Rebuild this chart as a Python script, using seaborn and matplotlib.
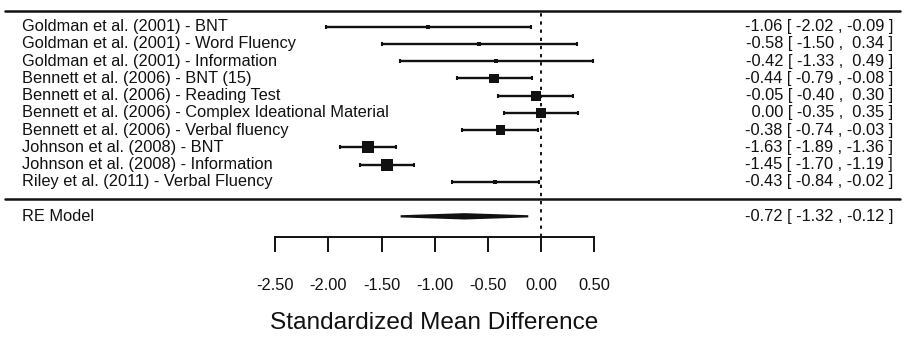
import numpy as np
import pandas as pd
import matplotlib
matplotlib.use('Agg')
import matplotlib.pyplot as plt
import seaborn as sns

# study-level effects (SMD with 95% CI)
studies = ['Goldman et al. (2001) - BNT',
           'Goldman et al. (2001) - Word Fluency',
           'Goldman et al. (2001) - Information',
           'Bennett et al. (2006) - BNT (15)',
           'Bennett et al. (2006) - Reading Test',
           'Bennett et al. (2006) - Complex Ideational Material',
           'Bennett et al. (2006) - Verbal fluency',
           'Johnson et al. (2008) - BNT',
           'Johnson et al. (2008) - Information',
           'Riley et al. (2011) - Verbal Fluency']
estimate = [-1.06, -0.58, -0.42, -0.44, -0.05, 0.00, -0.38, -1.63, -1.45, -0.43]
ci_lower = [-2.02, -1.50, -1.33, -0.79, -0.40, -0.35, -0.74, -1.89, -1.70, -0.84]
ci_upper = [-0.09, 0.34, 0.49, -0.08, 0.30, 0.35, -0.03, -1.36, -1.19, -0.02]
# relative study weights (box size)
weights = [4.1, 4.2, 4.3, 10.3, 10.6, 10.6, 10.4, 14.8, 14.5, 4.2]

# random-effects summary
re_label = 'RE Model'
re_est, re_lower, re_upper = -0.72, -1.32, -0.12

x_ticks = [-2.5, -2.0, -1.5, -1.0, -0.5, 0.0, 0.5]
x_title = 'Standardized Mean Difference'

k = len(studies)
df = pd.DataFrame({'study': studies, 'est': estimate, 'lo': ci_lower,
                   'hi': ci_upper, 'w': weights})
df['row'] = np.arange(k, 0, -1)

sns.set_theme(style='white')
plt.rcParams['font.family'] = ['Liberation Sans', 'DejaVu Sans']
plt.rcParams['axes.unicode_minus'] = False
ink = '#111111'
fs = 11.8

fig = plt.figure(figsize=(9.05, 3.37), dpi=100)
ax = fig.add_axes([0, 0.2967, 1, 0.7033])

# confidence intervals
ax.errorbar(df['est'], df['row'],
            xerr=[df['est'] - df['lo'], df['hi'] - df['est']],
            fmt='none', ecolor=ink, elinewidth=1.7, capsize=1.7, capthick=1.5)

# weighted boxes
sns.scatterplot(data=df, x='est', y='row', size='w', sizes=(8.3, 74.6),
                marker='s', color=ink, edgecolor='none', linewidth=0,
                legend=False, ax=ax, zorder=3)

# summary diamond
h = 0.12
ax.fill([re_lower, re_est, re_upper, re_est], [-1, -1 + h, -1, -1 - h],
        color=ink, lw=1.6, zorder=3)

# reference line at zero
ax.vlines(0, -2.2, 10.9, colors=ink, linestyles=(0, (1.7, 2.5)), lw=1.4)

# horizontal rules
ax.axhline(10.9, xmin=5 / 905, xmax=900 / 905, color=ink, lw=1.8)
ax.axhline(0, xmin=5 / 905, xmax=900 / 905, color=ink, lw=1.8)

# left and right annotations
trans = ax.get_yaxis_transform()
for _, r in df.iterrows():
    ax.text(22 / 905, r['row'], r['study'], transform=trans, ha='left',
            va='center', fontsize=fs, color=ink)
    ax.text(893 / 905, r['row'],
            f"{r['est']:5.2f} [ {r['lo']:5.2f} , {r['hi']:5.2f} ]",
            transform=trans, ha='right', va='center', fontsize=fs, color=ink)
ax.text(22 / 905, -1, re_label, transform=trans, ha='left', va='center',
        fontsize=fs, color=ink)
ax.text(893 / 905, -1, f"{re_est:5.2f} [ {re_lower:5.2f} , {re_upper:5.2f} ]",
        transform=trans, ha='right', va='center', fontsize=fs, color=ink)

ax.set_xlim(-541 / 106.33, 364 / 106.33)
ax.set_ylim(-2.2, 11.55)

for side in ['top', 'left', 'right']:
    ax.spines[side].set_visible(False)
ax.spines['bottom'].set_bounds(x_ticks[0], x_ticks[-1])
ax.spines['bottom'].set_linewidth(1.4)
ax.spines['bottom'].set_color(ink)
ax.set_yticks([])
ax.set_xticks(x_ticks)
ax.set_xticklabels([f'{t:.2f}' for t in x_ticks])
ax.tick_params(axis='x', direction='out', length=10.8, width=1.4, color=ink,
               pad=19, labelsize=fs, labelcolor=ink, bottom=True)
ax.set_xlabel(x_title, fontsize=17.6, color=ink)
ax.xaxis.label.set_va('center')
ax.xaxis.set_label_coords(434.5 / 905, -86 / 237)
ax.set_ylabel('')

fig.savefig('out.png', dpi=100)
